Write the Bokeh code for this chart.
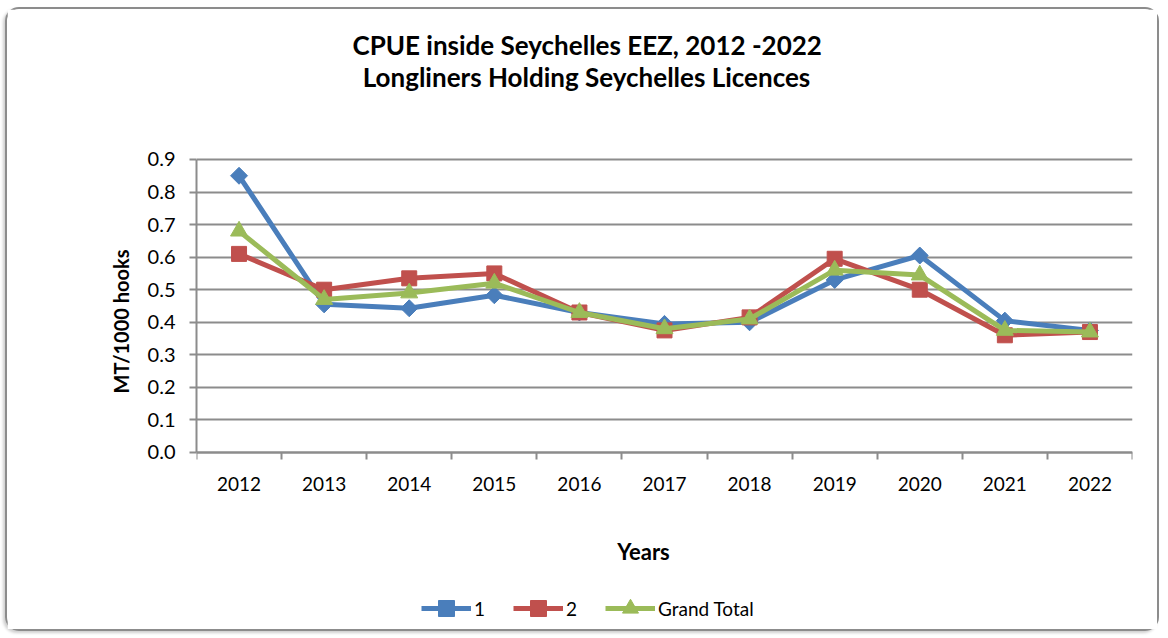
from bokeh.plotting import figure
from bokeh.models import FixedTicker, Legend, LegendItem, Label, Range1d, NumeralTickFormatter, ColumnDataSource
from bokeh.embed import file_html
from bokeh.resources import INLINE

years = [2012, 2013, 2014, 2015, 2016, 2017, 2018, 2019, 2020, 2021, 2022]
series_1 = [0.85, 0.455, 0.443, 0.483, 0.43, 0.395, 0.40, 0.53, 0.605, 0.405, 0.375]
series_2 = [0.61, 0.50, 0.535, 0.55, 0.43, 0.375, 0.415, 0.595, 0.50, 0.36, 0.37]
grand_total = [0.68, 0.47, 0.49, 0.52, 0.43, 0.38, 0.41, 0.56, 0.545, 0.375, 0.37]
y_ticks = [0.0, 0.1, 0.2, 0.3, 0.4, 0.5, 0.6, 0.7, 0.8, 0.9]
title_lines = ["CPUE  inside  Seychelles EEZ, 2012 -2022", "Longliners Holding Seychelles Licences"]
series_names = ["1", "2", "Grand Total"]
x_title = "Years"
y_title = "MT/1000 hooks"

# layout constants (not data): the frame is extended above and below the data
# so the titles, axis title and legend can sit inside it
Y_LOW, Y_HIGH = -0.556, 1.3607
FONT = "Lato"
GRID = "#8c8c8c"

src = ColumnDataSource(dict(year=years, s1=series_1, s2=series_2, gt=grand_total))

p = figure(width=1154, height=624, output_backend="svg", toolbar_location=None,
           x_range=Range1d(years[0] - 0.5, years[-1] + 0.5),
           y_range=Range1d(Y_LOW, Y_HIGH),
           min_border_left=189, min_border_right=29, min_border_top=0, min_border_bottom=0)
p.styles = {"border": "2px solid #8c8c8c", "border-radius": "14px",
            "box-shadow": "-2px 2px 3px #cfcfcf", "margin-left": "5px", "margin-top": "7px"}
p.background_fill_color = "white"
p.border_fill_color = "white"
p.outline_line_color = None

# titles (screen units relative to the frame's bottom-left corner)
for txt, sx, sy in [(title_lines[0], 397, 589), (title_lines[1], 390, 557)]:
    p.add_layout(Label(x=sx, y=sy, x_units="screen", y_units="screen", text=txt,
                       text_align="center", text_baseline="middle",
                       text_font=FONT, text_font_size="26px", text_font_style="bold",
                       text_color="#000000"))
p.add_layout(Label(x=447, y=82, x_units="screen", y_units="screen", text=x_title,
                   text_align="center", text_baseline="middle",
                   text_font=FONT, text_font_size="22px", text_font_style="bold",
                   text_color="#000000"))

# axes
xa = p.xaxis[0]
xa.fixed_location = 0
xa.ticker = FixedTicker(ticks=years, minor_ticks=[y - 0.5 for y in years] + [years[-1] + 0.5])
xa.formatter = NumeralTickFormatter(format="0")
xa.major_tick_line_color = None
xa.minor_tick_in = 0
xa.minor_tick_out = 7
xa.minor_tick_line_color = GRID
xa.minor_tick_line_width = 2
xa.axis_line_color = GRID
xa.axis_line_width = 2
xa.major_label_standoff = 18
xa.major_label_text_font = FONT
xa.major_label_text_font_size = "19px"
xa.major_label_text_color = "#000000"

ya = p.yaxis[0]
ya.ticker = FixedTicker(ticks=y_ticks)
ya.bounds = (y_ticks[0], y_ticks[-1])
ya.formatter = NumeralTickFormatter(format="0.0")
ya.major_tick_in = 0
ya.major_tick_out = 7
ya.major_tick_line_color = GRID
ya.major_tick_line_width = 2
ya.minor_tick_line_color = None
ya.axis_line_color = GRID
ya.axis_line_width = 2
ya.major_label_standoff = 14
ya.major_label_text_font = FONT
ya.major_label_text_font_size = "20px"
ya.major_label_text_color = "#000000"
ya.axis_label = y_title
ya.axis_label_text_font = FONT
ya.axis_label_text_font_size = "20px"
ya.axis_label_text_font_style = "bold"
ya.axis_label_standoff = 12
ya.axis_label_text_color = "#000000"

p.xgrid.grid_line_color = None
p.ygrid.grid_line_color = GRID
p.ygrid.grid_line_width = 2

BLUE = "#4a7ebb"
RED = "#c0504d"
GREEN = "#9bbb59"

l1 = p.line("year", "s1", source=src, line_color=BLUE, line_width=5)
m1 = p.scatter("year", "s1", source=src, marker="square", angle=0.7854, size=12,
               fill_color=BLUE, line_color=BLUE)
l2 = p.line("year", "s2", source=src, line_color=RED, line_width=5)
m2 = p.scatter("year", "s2", source=src, marker="square", size=15,
               fill_color=RED, line_color=RED)
l3 = p.line("year", "gt", source=src, line_color=GREEN, line_width=5)
m3 = p.scatter("year", "gt", source=src, marker="triangle", size=17,
               fill_color=GREEN, line_color=GREEN)

legend = Legend(items=[LegendItem(label=series_names[0], renderers=[l1, m1]),
                       LegendItem(label=series_names[1], renderers=[l2, m2]),
                       LegendItem(label=series_names[2], renderers=[l3, m3])],
                orientation="horizontal", location=(225, 5),
                label_text_font=FONT, label_text_font_size="19px", label_text_color="#000000",
                glyph_width=50, glyph_height=40, spacing=19, label_standoff=3,
                border_line_color=None, background_fill_alpha=0, padding=0, margin=0)
p.add_layout(legend, "center")

open("out.html", "w").write(file_html(p, INLINE))
